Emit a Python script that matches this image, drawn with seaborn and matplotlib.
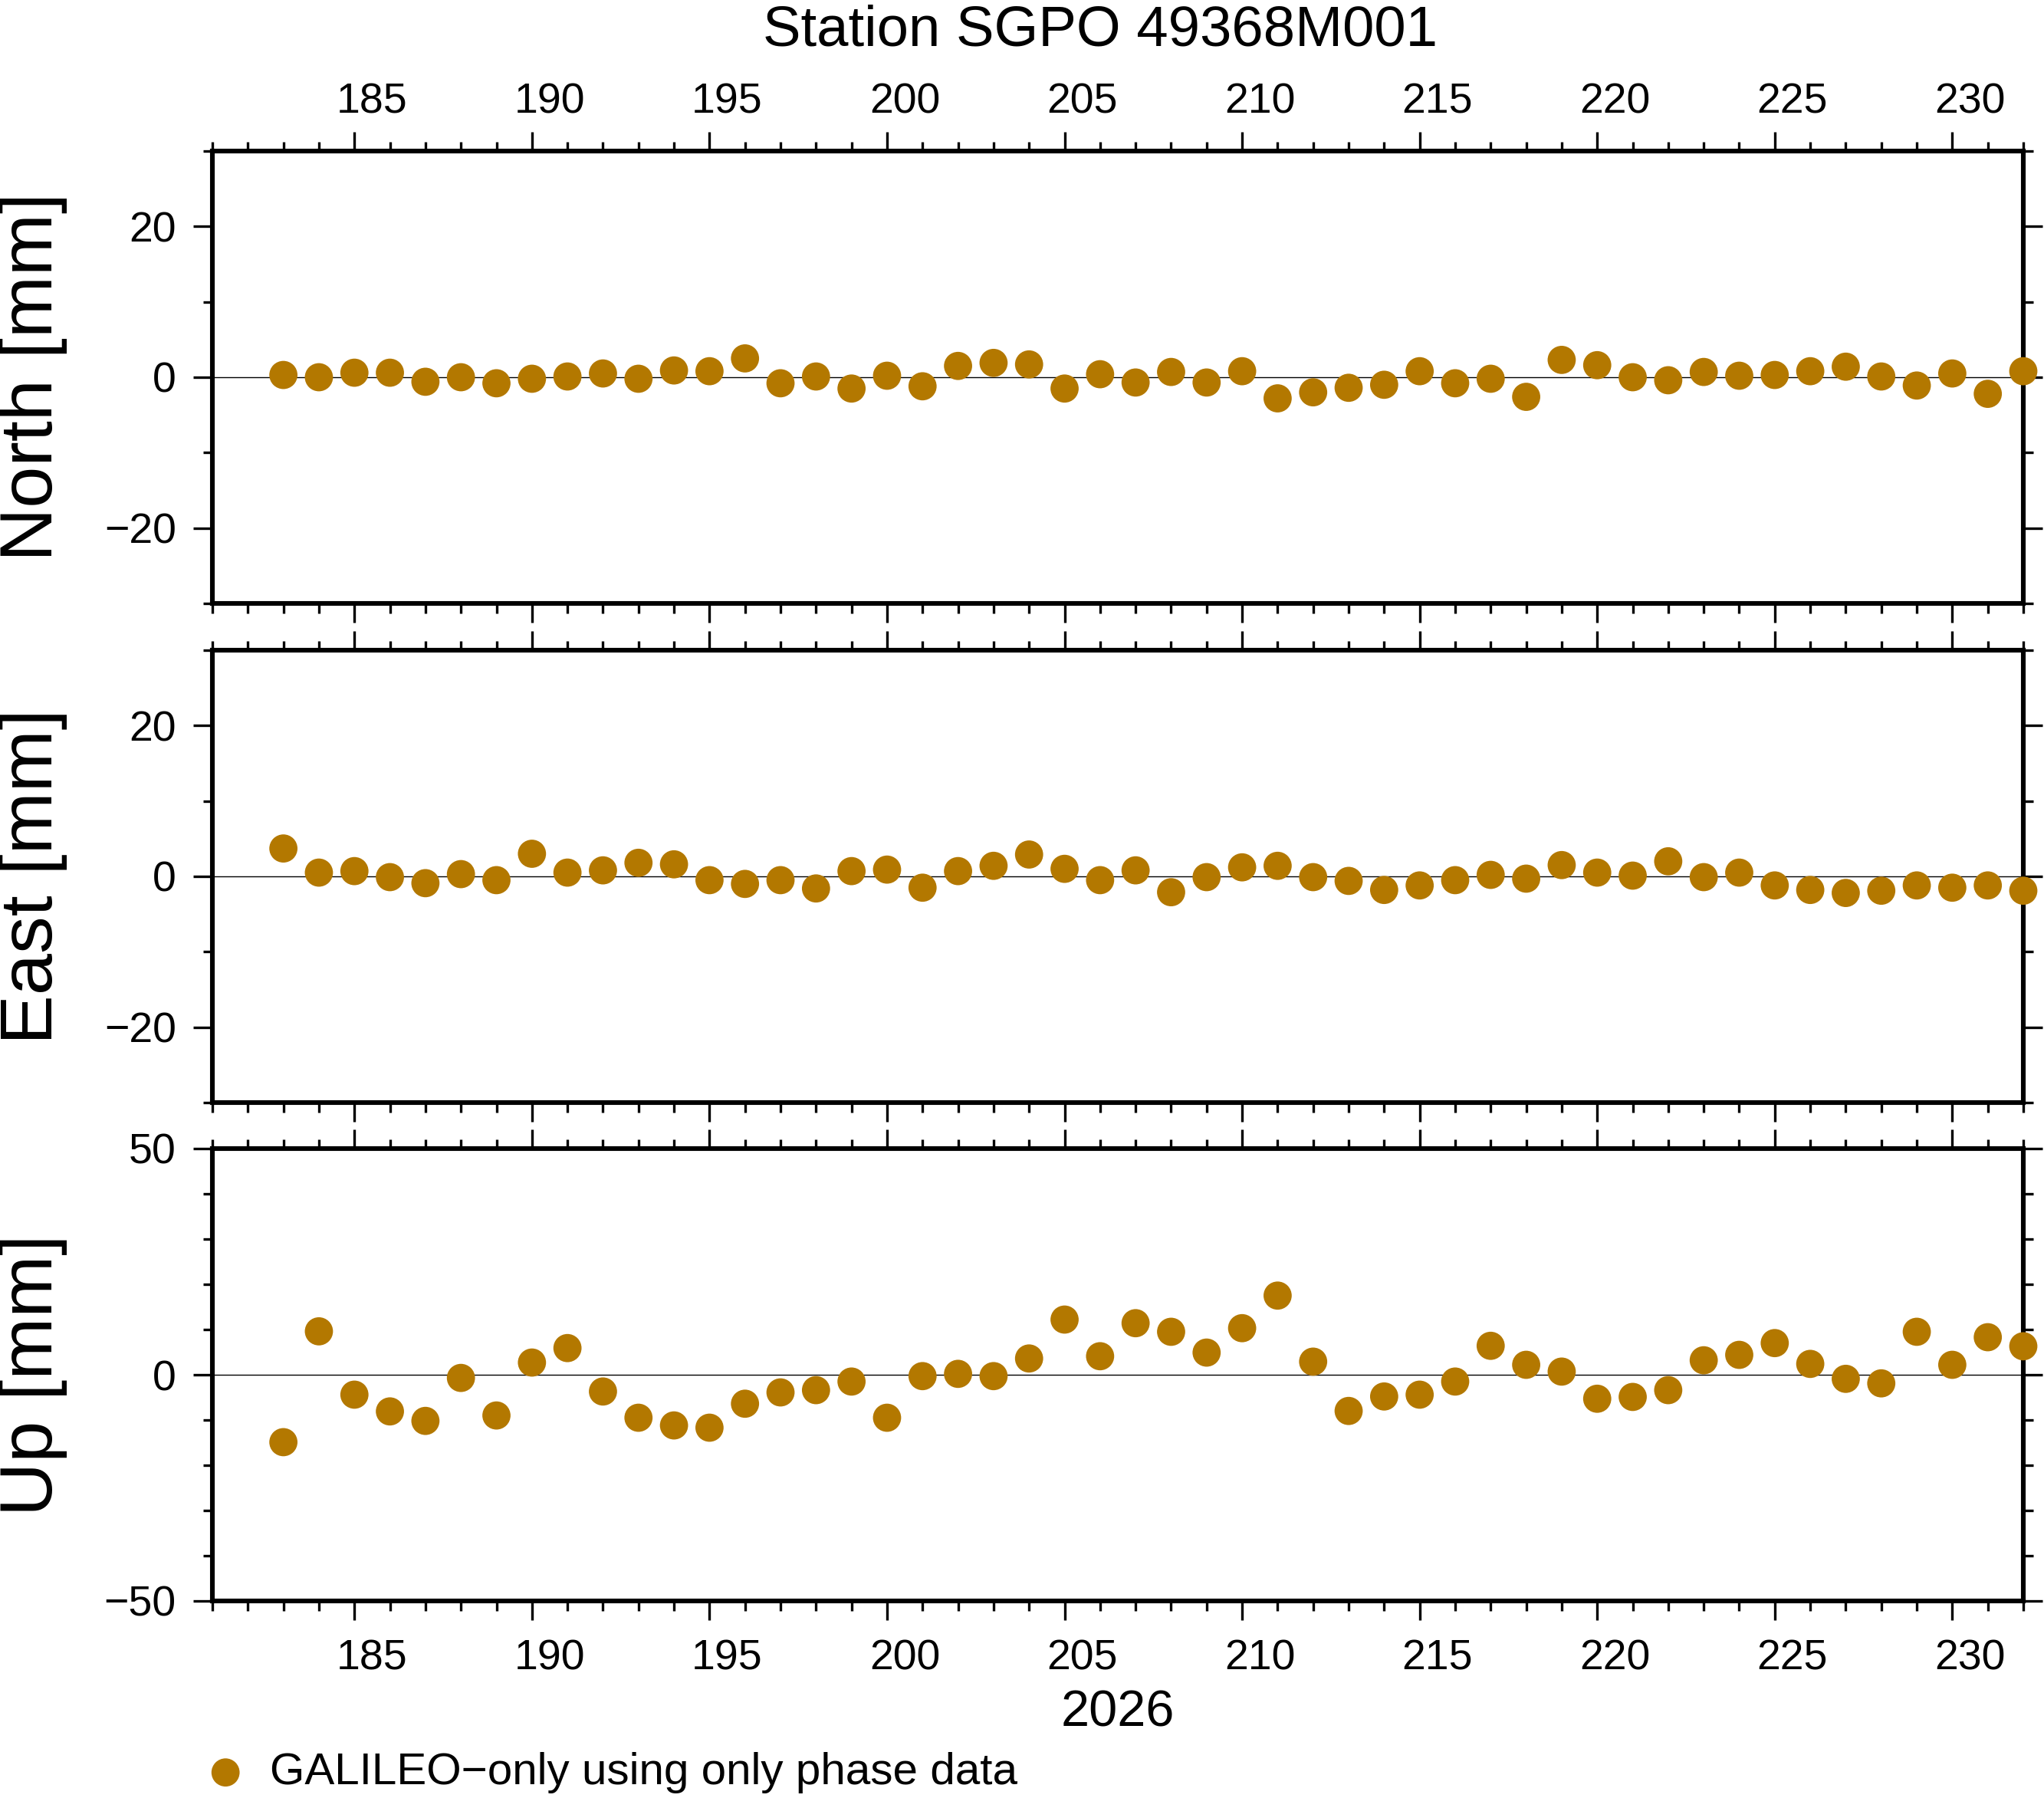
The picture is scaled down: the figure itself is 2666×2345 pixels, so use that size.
import numpy as np
import pandas as pd
import seaborn as sns
import matplotlib.pyplot as plt
import matplotlib.transforms as mtransforms
from matplotlib.ticker import MultipleLocator

# day of year 2026
days = [183, 184, 185, 186, 187, 188, 189, 190, 191, 192,
        193, 194, 195, 196, 197, 198, 199, 200, 201, 202,
        203, 204, 205, 206, 207, 208, 209, 210, 211, 212,
        213, 214, 215, 216, 217, 218, 219, 220, 221, 222,
        223, 224, 225, 226, 227, 228, 229, 230, 231, 232]

north = [0.3, 0.0, 0.6, 0.6, -0.6, 0.0, -0.8, -0.2, 0.1, 0.5,
         -0.2, 0.9, 0.8, 2.5, -0.8, 0.1, -1.5, 0.2, -1.2, 1.5,
         1.9, 1.7, -1.5, 0.4, -0.7, 0.7, -0.7, 0.8, -2.8, -2.0,
         -1.4, -1.0, 0.8, -0.8, -0.2, -2.6, 2.3, 1.6, 0.0, -0.4,
         0.7, 0.2, 0.3, 0.8, 1.4, 0.1, -1.1, 0.5, -2.2, 0.8]

east = [3.7, 0.5, 0.7, -0.1, -0.9, 0.3, -0.5, 3.0, 0.5, 0.8,
        1.8, 1.6, -0.5, -1.0, -0.5, -1.6, 0.7, 0.9, -1.5, 0.7,
        1.4, 2.9, 1.0, -0.5, 0.8, -2.1, -0.1, 1.2, 1.4, -0.1,
        -0.6, -1.8, -1.2, -0.5, 0.2, -0.3, 1.5, 0.5, 0.1, 2.0,
        -0.1, 0.5, -1.2, -1.8, -2.2, -1.9, -1.2, -1.5, -1.2, -1.9]

up = [-14.9, 9.6, -4.4, -8.1, -10.2, -0.7, -9.0, 2.7, 5.9, -3.7,
      -9.5, -11.2, -11.7, -6.4, -3.9, -3.4, -1.5, -9.5, -0.3, 0.2,
      -0.3, 3.6, 12.2, 4.1, 11.4, 9.5, 4.9, 10.3, 17.5, 2.9,
      -8.0, -4.8, -4.4, -1.5, 6.4, 2.2, 0.7, -5.3, -4.9, -3.4,
      3.2, 4.4, 7.0, 2.4, -0.9, -1.9, 9.5, 2.2, 8.3, 6.3]

panel_names = ["North [mm]", "East [mm]", "Up [mm]"]
ylims = [(-30, 30), (-30, 30), (-50, 50)]
ymajor = [20, 20, 50]
yminor = [10, 10, 10]
series_label = "GALILEO\u2212only using only phase data"
title = "Station SGPO 49368M001"
year_label = "2026"

df = pd.DataFrame({"day": days, "North": north, "East": east, "Up": up})

sns.set_style("ticks")
plt.rcParams["font.family"] = ["Liberation Sans", "DejaVu Sans"]
plt.rcParams["text.color"] = "black"
plt.rcParams["axes.labelcolor"] = "black"
plt.rcParams["xtick.color"] = "black"
plt.rcParams["ytick.color"] = "black"

W, H = 2666, 2345
fig = plt.figure(figsize=(W / 200, H / 200), dpi=200)

left, right = 277, 2639
tops = [197, 848, 1498]
ph = 590
color = "#b37800"

# GMT centres day annotations in the middle of the day interval
half_day = mtransforms.ScaledTranslation(0.5 * (right - left) / 51 / 200, 0,
                                         fig.dpi_scale_trans)

axes = []
for i, col in enumerate(["North", "East", "Up"]):
    top = tops[i]
    ax = fig.add_axes([left / W, 1 - (top + ph) / H, (right - left) / W, ph / H])
    ax.axhline(0, color="black", lw=0.5, zorder=1)
    sns.scatterplot(data=df, x="day", y=col, ax=ax, color=color, s=175,
                    edgecolor="none", linewidth=0, clip_on=False, zorder=3,
                    label=series_label if i == 0 else None)
    ax.set_xlim(181, 232)
    ax.set_ylim(*ylims[i])
    ax.xaxis.set_major_locator(MultipleLocator(5))
    ax.xaxis.set_minor_locator(MultipleLocator(1))
    ax.yaxis.set_major_locator(MultipleLocator(ymajor[i]))
    ax.yaxis.set_minor_locator(MultipleLocator(yminor[i]))
    ax.set_xlabel("")
    ax.set_ylabel("")
    for s in ax.spines.values():
        s.set_visible(True)
        s.set_linewidth(2.2)
        s.set_color("black")
    ax.tick_params(which="both", direction="out", top=True, right=True,
                   bottom=True, left=True, width=1.2, color="black",
                   labelsize=20, labelcolor="black")
    ax.tick_params(which="major", length=9)
    ax.tick_params(which="minor", length=4.5)
    ax.tick_params(axis="y", pad=8, labelright=False)
    ax.tick_params(axis="x", labeltop=(i == 0), labelbottom=(i == 2),
                   pad=(4.5 if i == 0 else 9))
    if ax.get_legend() is not None:
        ax.get_legend().remove()
    fig.text(43 / W, 1 - (top + ph / 2) / H, panel_names[i], rotation=90,
             ha="center", va="center", fontsize=35)
    axes.append(ax)

fig.canvas.draw()
for ax in axes:
    for t in ax.xaxis.get_major_ticks():
        t.label1.set_transform(t.label1.get_transform() + half_day)
        t.label2.set_transform(t.label2.get_transform() + half_day)

fig.text(1435 / W, 1 - 59 / H, title, ha="center", va="baseline", fontsize=26.8)
fig.text(1458 / W, 1 - 2251 / H, year_label, ha="center", va="baseline", fontsize=24)

handles, labels = axes[0].get_legend_handles_labels()
fig.legend(handles, labels, loc="center left",
           bbox_to_anchor=(265 / W, 1 - 2312 / H), frameon=False,
           fontsize=21, handlelength=1.0, handletextpad=0.5,
           borderpad=0, borderaxespad=0)

fig.savefig("out.png", dpi=200)
